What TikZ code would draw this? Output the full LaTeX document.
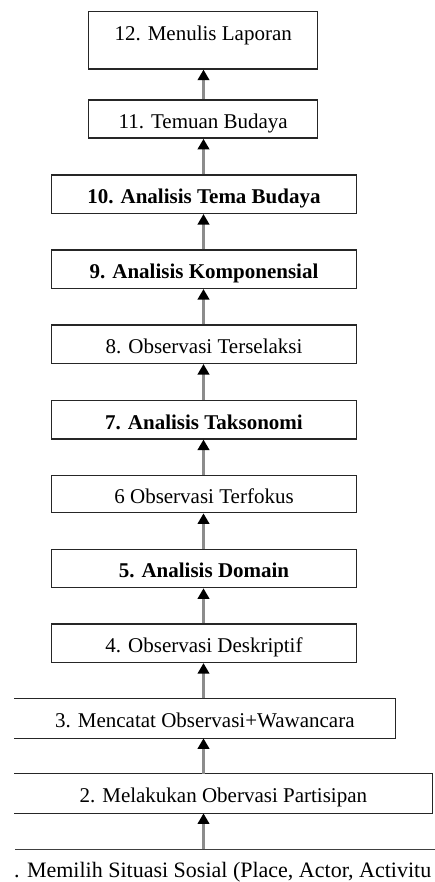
\documentclass[tikz,border=0pt]{standalone}
\usepackage{fontspec}
\setmainfont{Liberation Serif}
\usetikzlibrary{arrows.meta}
\begin{document}
\begin{tikzpicture}[x=1pt,y=-1pt,
  box/.style={draw=black!85, line width=1.4pt, inner sep=0pt, text height=18.6pt, text depth=0pt,
    font=\fontsize{21}{25}\selectfont, anchor=center, minimum height=38.3pt},
  narrowbox/.style={box, minimum width=229pt},
  widebox/.style={box, minimum width=305.4pt},
  openbox/.style={box, draw=none},
  edgeline/.style={draw=black!85, line width=1.4pt},
  arr/.style={draw=black!45, line width=2.3pt, -{Triangle[length=10.5pt,width=11.5pt,color=black]}}]
\useasboundingbox (0,0) rectangle (435,882);
\coordinate (ax) at (203.5,0);
\node[narrowbox, minimum height=57.3pt, text height=10pt, text depth=10pt] (n12) at (203.2,40.3) {12. Menulis Laporan};
\node[narrowbox] (n11) at (203.2,119) {11. Temuan Budaya};
\node[widebox, font=\fontsize{21}{25}\selectfont\bfseries] (n10) at (204,194.2) {10. Analisis Tema Budaya};
\node[widebox, font=\fontsize{21}{25}\selectfont\bfseries] (n9) at (204,269.2) {9. Analisis Komponensial};
\node[widebox] (n8) at (204,344.2) {8. Observasi Terselaksi};
\node[widebox, font=\fontsize{21}{25}\selectfont\bfseries] (n7) at (204,419.7) {7. Analisis Taksonomi};
\node[widebox, minimum height=37pt] (n6) at (204,494.2) {6 Observasi Terfokus};
\node[widebox, font=\fontsize{21}{25}\selectfont\bfseries] (n5) at (204,568.5) {5. Analisis Domain};
\node[widebox] (n4) at (204,643.3) {4. Observasi Deskriptif};
\node[openbox, minimum width=379.7pt, minimum height=38.7pt] (n3) at (204.85,718.3) {3. Mencatat Observasi+Wawancara};
\node[openbox, minimum width=416.7pt, minimum height=38.4pt] (n2) at (223.35,793.5) {2. Melakukan Obervasi Partisipan};
\draw[edgeline] (n3.north west) -- (n3.north east) -- (n3.south east) -- (n3.south west);
\draw[edgeline] (n2.north west) -- (n2.north east) -- (n2.south east) -- (n2.south west);
\coordinate (l1a) at (15,849.3);
\coordinate (l1b) at (435,849.3);
\draw[edgeline, draw=black!75] (l1a) -- (l1b);
\node[anchor=base west, inner sep=0pt, font=\fontsize{22}{26}\selectfont] (n1) at (14,877.5) {. Memilih Situasi Sosial (Place, Actor, Activitu};
\draw[arr] (l1a -| ax) -- (n2.south -| ax);
\draw[arr] (n2.north -| ax) -- (n3.south -| ax);
\draw[arr] (n3.north -| ax) -- (n4.south -| ax);
\draw[arr] (n4.north -| ax) -- (n5.south -| ax);
\draw[arr] (n5.north -| ax) -- (n6.south -| ax);
\draw[arr] (n6.north -| ax) -- (n7.south -| ax);
\draw[arr] (n7.north -| ax) -- (n8.south -| ax);
\draw[arr] (n8.north -| ax) -- (n9.south -| ax);
\draw[arr] (n9.north -| ax) -- (n10.south -| ax);
\draw[arr] (n10.north -| ax) -- (n11.south -| ax);
\draw[arr] (n11.north -| ax) -- (n12.south -| ax);
\end{tikzpicture}
\end{document}
